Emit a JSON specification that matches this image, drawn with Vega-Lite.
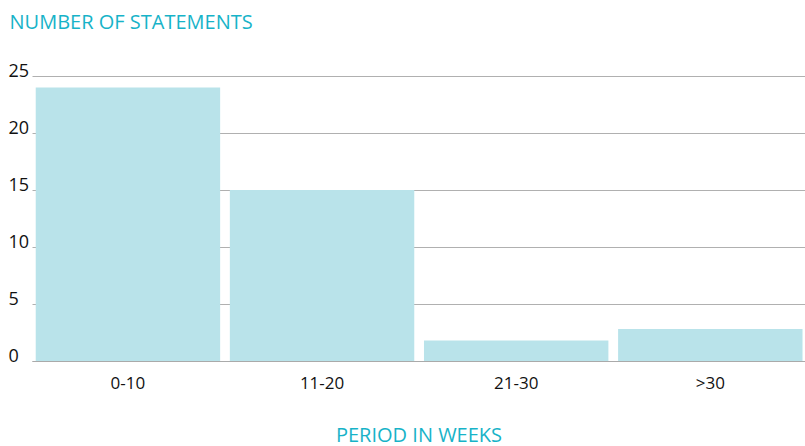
{
  "$schema": "https://vega.github.io/schema/vega-lite/v6.json",
  "autosize": "none",
  "width": 773,
  "height": 285,
  "padding": {"left": 32, "top": 76, "right": 0, "bottom": 85},
  "background": "white",
  "data": {"values": [
    {"period": "0-10", "count": 24},
    {"period": "11-20", "count": 15},
    {"period": "21-30", "count": 1.8},
    {"period": ">30", "count": 2.8}
  ]},
  "mark": {"type": "bar", "color": "#b9e3ea"},
  "encoding": {
    "x": {
      "field": "period", "type": "nominal", "sort": null,
      "scale": {"paddingInner": 0.05, "paddingOuter": 0.016, "align": 0.6},
      "axis": {
        "title": "PERIOD IN WEEKS",
        "labelAngle": 0, "ticks": false, "labelPadding": 14,
        "labelFont": "Open Sans", "labelFontSize": 17, "labelColor": "#111",
        "domainColor": "#aaaaaa",
        "titleFont": "Open Sans", "titleFontSize": 20, "titleFontWeight": "normal",
        "titleColor": "#17b3c8", "titlePadding": 34
      }
    },
    "y": {
      "field": "count", "type": "quantitative",
      "scale": {"domain": [0, 25]},
      "axis": {
        "values": [0, 5, 10, 15, 20, 25],
        "title": "NUMBER OF STATEMENTS",
        "titleAngle": 0, "titleAlign": "left", "titleBaseline": "alphabetic",
        "titleX": -23, "titleY": -48,
        "titleFont": "Open Sans", "titleFontSize": 20, "titleFontWeight": "normal",
        "titleColor": "#17b3c8",
        "ticks": false, "domain": false,
        "labelAlign": "left", "labelBaseline": "alphabetic", "labelPadding": 24,
        "labelFont": "Open Sans", "labelFontSize": 18, "labelColor": "#111",
        "grid": true, "gridColor": "#b0b0b0", "gridWidth": 1
      }
    }
  },
  "config": {"view": {"stroke": null}}
}
